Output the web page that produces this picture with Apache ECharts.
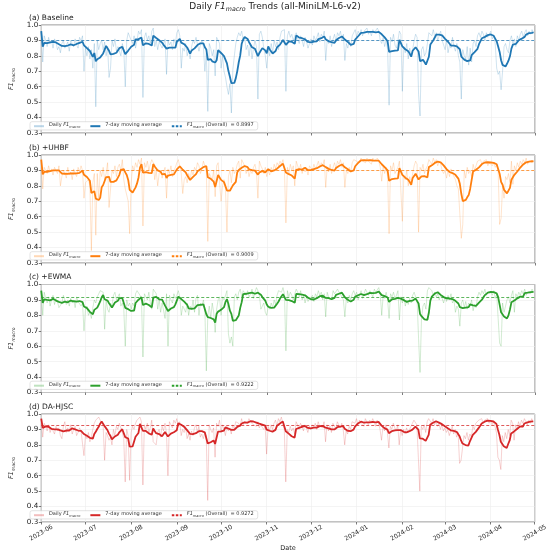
<!DOCTYPE html>
<html>
<head>
<meta charset="utf-8">
<script src="https://cdn.jsdelivr.net/npm/echarts@6/dist/echarts.min.js"></script>
<style>
  html, body { margin: 0; padding: 0; background: #ffffff; }
  #chart { width: 550px; height: 555px; }
</style>
</head>
<body>
<div id="chart"></div>
<script>
// panel labels, colours and the overall F1 shown in each legend
const panelNames = ["(a) Baseline", "(b) +UHBF", "(c) +EWMA", "(d) DA-HJSC"];
const colors = ["#1f77b4", "#ff7f0e", "#2ca02c", "#d62728"];
const overall = [0.8997, 0.9009, 0.9222, 0.9272];

// daily F1 macro, 2023-06-01 .. 2024-04-30, one row per month
const dailyBaseline = [
  0.96,0.76,0.93,0.90,0.86,0.92,0.88,0.90,0.85,0.91,0.89,0.84,0.86,0.82,0.88,0.90,0.85,0.87,0.89,0.83,0.90,0.88,0.86,0.91,0.87,0.85,0.92,0.90,0.93,0.70,
  0.85,0.80,0.86,0.78,0.84,0.72,0.88,0.47,0.90,0.84,0.88,0.90,0.84,0.89,0.80,0.86,0.66,0.72,0.90,0.86,0.91,0.83,0.86,0.87,0.80,0.88,0.84,0.60,0.90,0.95,0.94,
  0.90,0.88,0.93,0.85,0.90,0.96,0.94,0.97,0.53,0.92,0.95,0.90,0.93,0.88,0.96,0.98,0.86,0.90,0.84,0.89,0.88,0.85,0.88,0.91,0.68,0.90,0.87,0.89,0.84,0.91,0.88,
  0.95,0.97,0.93,0.72,0.85,0.83,0.88,0.80,0.84,0.78,0.86,0.90,0.88,0.92,0.91,0.83,0.87,0.90,0.86,0.70,0.82,0.44,0.88,0.85,0.80,0.84,0.67,0.92,0.90,0.88,
  0.72,0.80,0.70,0.66,0.60,0.55,0.62,0.43,0.71,0.80,0.88,0.92,0.95,0.93,0.96,0.90,0.92,0.84,0.87,0.80,0.88,0.78,0.85,0.90,0.86,0.52,0.94,0.96,0.92,0.85,0.80,
  0.72,0.84,0.80,0.88,0.82,0.90,0.86,0.89,0.84,0.92,0.96,0.95,0.97,0.57,0.93,0.96,0.92,0.94,0.90,0.93,0.95,0.91,0.88,0.93,0.90,0.86,0.92,0.89,0.85,0.88,
  0.91,0.87,0.93,0.90,0.92,0.95,0.89,0.94,0.92,0.96,0.77,0.90,0.88,0.93,0.86,0.91,0.94,0.89,0.95,0.93,0.96,0.90,0.94,0.77,0.88,0.85,0.90,0.86,0.93,0.95,0.97,
  0.92,0.96,0.94,0.97,0.93,0.96,0.95,0.98,0.94,0.96,0.93,0.97,0.95,0.94,0.98,0.96,0.90,0.88,0.92,0.86,0.90,0.84,0.48,0.92,0.89,0.94,0.87,0.85,0.90,0.96,0.94,
  0.57,0.86,0.82,0.88,0.78,0.85,0.80,0.84,0.90,0.94,0.92,0.55,0.41,0.84,0.86,0.80,0.82,0.88,0.95,0.96,0.93,0.97,0.92,0.95,0.90,0.93,0.96,0.90,0.89,
  0.84,0.90,0.82,0.87,0.85,0.92,0.86,0.83,0.88,0.80,0.76,0.52,0.84,0.80,0.78,0.86,0.74,0.85,0.76,0.88,0.90,0.86,0.93,0.95,0.92,0.96,0.94,0.90,0.95,0.92,0.94,
  0.96,0.91,0.93,0.88,0.72,0.68,0.70,0.58,0.70,0.86,0.88,0.84,0.82,0.90,0.93,0.88,0.91,0.86,0.93,0.90,0.94,0.96,0.92,0.95,0.97,0.93,0.96,0.94,0.97,0.95
];
const dailyUHBF = [
  0.97,0.78,0.92,0.90,0.88,0.93,0.89,0.91,0.87,0.92,0.90,0.88,0.93,0.80,0.86,0.90,0.88,0.85,0.92,0.87,0.89,0.84,0.91,0.88,0.86,0.92,0.89,0.93,0.90,0.72,
  0.82,0.82,0.84,0.80,0.38,0.82,0.88,0.48,0.88,0.72,0.90,0.86,0.92,0.84,0.88,0.95,0.66,0.67,0.90,0.88,0.93,0.86,0.92,0.94,0.90,0.97,0.84,0.78,0.74,0.70,0.49,
  0.82,0.93,0.90,0.95,0.92,0.97,0.94,0.98,0.54,0.95,0.92,0.96,0.90,0.94,0.97,0.95,0.84,0.90,0.80,0.88,0.90,0.85,0.89,0.92,0.72,0.91,0.88,0.93,0.86,0.90,0.92,
  0.95,0.97,0.96,0.88,0.75,0.84,0.86,0.82,0.88,0.84,0.90,0.87,0.92,0.90,0.95,0.93,0.88,0.91,0.96,0.97,0.90,0.44,0.88,0.86,0.84,0.90,0.73,0.93,0.95,0.82,
  0.70,0.80,0.84,0.78,0.50,0.86,0.90,0.82,0.92,0.88,0.90,0.94,0.96,0.85,0.97,0.95,0.93,0.88,0.91,0.86,0.90,0.88,0.92,0.94,0.89,0.72,0.96,0.93,0.91,0.88,0.92,
  0.86,0.90,0.87,0.92,0.89,0.94,0.91,0.95,0.93,0.96,0.94,0.97,0.90,0.56,0.92,0.88,0.94,0.90,0.93,0.80,0.96,0.93,0.90,0.94,0.88,0.92,0.89,0.91,0.87,0.93,
  0.92,0.90,0.94,0.91,0.93,0.96,0.92,0.95,0.93,0.97,0.79,0.92,0.89,0.94,0.88,0.92,0.95,0.91,0.96,0.94,0.97,0.92,0.95,0.79,0.90,0.88,0.92,0.89,0.95,0.97,0.98,
  0.96,0.97,0.95,0.98,0.96,0.97,0.95,0.98,0.96,0.97,0.94,0.98,0.96,0.95,0.98,0.96,0.92,0.83,0.93,0.88,0.92,0.86,0.49,0.93,0.90,0.95,0.88,0.87,0.92,0.96,0.95,
  0.57,0.86,0.84,0.90,0.80,0.86,0.82,0.88,0.93,0.96,0.94,0.50,0.92,0.90,0.94,0.88,0.91,0.93,0.97,0.96,0.94,0.98,0.95,0.97,0.93,0.96,0.94,0.90,0.88,
  0.90,0.85,0.90,0.86,0.91,0.88,0.86,0.84,0.80,0.78,0.62,0.46,0.55,0.90,0.85,0.92,0.88,0.90,0.86,0.94,0.90,0.93,0.96,0.95,0.97,0.94,0.96,0.95,0.97,0.93,0.95,
  0.96,0.93,0.95,0.92,0.94,0.90,0.55,0.59,0.80,0.72,0.86,0.84,0.88,0.82,0.96,0.81,0.93,0.90,0.95,0.92,0.96,0.94,0.97,0.95,0.98,0.94,0.96,0.97,0.95,0.96
];
const dailyEWMA = [
  0.96,0.80,0.95,0.91,0.88,0.92,0.86,0.90,0.93,0.87,0.91,0.89,0.85,0.84,0.88,0.93,0.92,0.87,0.90,0.86,0.91,0.88,0.90,0.85,0.92,0.89,0.90,0.86,0.88,0.70,
  0.84,0.86,0.80,0.82,0.78,0.85,0.90,0.88,0.92,0.94,0.96,0.97,0.95,0.71,0.90,0.84,0.82,0.88,0.86,0.93,0.95,0.90,0.92,0.94,0.86,0.88,0.84,0.60,0.90,0.86,0.88,
  0.84,0.88,0.86,0.94,0.96,0.95,0.93,0.90,0.53,0.94,0.92,0.90,0.95,0.88,0.84,0.97,0.96,0.94,0.84,0.90,0.82,0.88,0.88,0.78,0.94,0.60,0.93,0.90,0.88,0.94,0.91,
  0.93,0.96,0.92,0.80,0.86,0.84,0.82,0.88,0.80,0.86,0.84,0.90,0.82,0.91,0.93,0.80,0.88,0.86,0.90,0.84,0.44,0.80,0.86,0.78,0.88,0.82,0.69,0.84,0.90,0.92,
  0.80,0.92,0.90,0.93,0.96,0.68,0.62,0.66,0.60,0.92,0.94,0.90,0.95,0.97,0.92,0.96,0.95,0.93,0.96,0.92,0.94,0.97,0.91,0.95,0.98,0.96,0.93,0.84,0.86,0.88,0.82,
  0.80,0.86,0.84,0.88,0.85,0.90,0.87,0.93,0.96,0.97,0.95,0.98,0.94,0.57,0.96,0.92,0.95,0.93,0.90,0.94,0.97,0.95,0.92,0.96,0.90,0.93,0.88,0.92,0.89,0.91,
  0.90,0.93,0.89,0.94,0.92,0.96,0.93,0.95,0.90,0.94,0.79,0.95,0.92,0.93,0.90,0.96,0.94,0.93,0.97,0.95,0.96,0.92,0.90,0.79,0.91,0.88,0.93,0.90,0.94,0.96,0.93,
  0.95,0.90,0.93,0.96,0.91,0.94,0.97,0.95,0.93,0.96,0.94,0.92,0.97,0.95,0.96,0.98,0.94,0.80,0.93,0.91,0.95,0.90,0.78,0.94,0.92,0.95,0.91,0.93,0.96,0.77,0.92,
  0.88,0.92,0.86,0.90,0.87,0.91,0.88,0.93,0.95,0.92,0.90,0.65,0.43,0.78,0.86,0.88,0.84,0.96,0.98,0.97,0.96,0.93,0.95,0.92,0.94,0.90,0.93,0.91,0.88,
  0.92,0.89,0.93,0.90,0.94,0.88,0.90,0.82,0.86,0.84,0.73,0.88,0.90,0.85,0.89,0.84,0.88,0.86,0.90,0.83,0.87,0.85,0.92,0.95,0.93,0.96,0.94,0.97,0.93,0.95,0.96,
  0.95,0.93,0.96,0.91,0.94,0.78,0.62,0.60,0.88,0.82,0.86,0.90,0.92,0.88,0.93,0.96,0.82,0.94,0.92,0.95,0.93,0.96,0.94,0.97,0.93,0.95,0.96,0.94,0.97,0.95
];
const dailyDAHJSC = [
  0.97,0.85,0.94,0.92,0.89,0.93,0.88,0.91,0.90,0.87,0.92,0.89,0.91,0.86,0.84,0.92,0.95,0.88,0.91,0.89,0.93,0.87,0.90,0.92,0.86,0.88,0.91,0.89,0.90,0.73,
  0.86,0.84,0.88,0.82,0.85,0.90,0.94,0.96,0.97,0.98,0.96,0.95,0.93,0.70,0.88,0.86,0.83,0.85,0.80,0.90,0.86,0.92,0.90,0.94,0.91,0.88,0.84,0.56,0.90,0.86,0.57,
  0.88,0.92,0.90,0.94,0.96,0.97,0.98,0.95,0.54,0.93,0.90,0.94,0.88,0.91,0.96,0.82,0.82,0.80,0.88,0.90,0.85,0.92,0.89,0.94,0.88,0.60,0.95,0.93,0.91,0.96,0.94,
  0.97,0.92,0.95,0.86,0.90,0.88,0.92,0.84,0.87,0.83,0.89,0.86,0.91,0.93,0.88,0.92,0.85,0.87,0.84,0.88,0.86,0.44,0.93,0.90,0.88,0.91,0.72,0.94,0.92,0.96,
  0.88,0.93,0.90,0.86,0.92,0.89,0.91,0.87,0.93,0.90,0.95,0.96,0.94,0.92,0.97,0.93,0.95,0.96,0.94,0.97,0.95,0.96,0.93,0.94,0.92,0.95,0.91,0.93,0.94,0.90,0.92,
  0.74,0.92,0.89,0.93,0.90,0.94,0.96,0.92,0.97,0.95,0.98,0.94,0.90,0.56,0.90,0.88,0.92,0.89,0.91,0.87,0.95,0.93,0.90,0.94,0.92,0.89,0.93,0.91,0.88,0.92,
  0.90,0.93,0.91,0.94,0.90,0.95,0.92,0.93,0.91,0.95,0.82,0.93,0.89,0.92,0.88,0.94,0.92,0.90,0.95,0.93,0.91,0.94,0.90,0.80,0.89,0.87,0.92,0.90,0.95,0.96,0.94,
  0.97,0.93,0.96,0.94,0.95,0.92,0.97,0.95,0.93,0.96,0.94,0.97,0.95,0.92,0.96,0.94,0.90,0.83,0.92,0.89,0.93,0.88,0.78,0.92,0.90,0.94,0.91,0.89,0.93,0.80,0.90,
  0.86,0.90,0.87,0.91,0.88,0.90,0.89,0.94,0.96,0.95,0.93,0.72,0.50,0.92,0.90,0.93,0.88,0.95,0.97,0.96,0.94,0.97,0.93,0.95,0.92,0.94,0.90,0.93,0.89,
  0.91,0.88,0.90,0.86,0.89,0.92,0.87,0.90,0.85,0.88,0.68,0.70,0.78,0.86,0.84,0.88,0.83,0.87,0.85,0.92,0.90,0.94,0.93,0.96,0.95,0.97,0.94,0.96,0.95,0.97,0.94,
  0.96,0.93,0.95,0.92,0.88,0.72,0.70,0.64,0.86,0.82,0.88,0.84,0.90,0.86,0.96,0.94,0.83,0.93,0.90,0.95,0.92,0.96,0.94,0.97,0.95,0.93,0.96,0.94,0.97,0.95
];
const dailySeries = [dailyBaseline, dailyUHBF, dailyEWMA, dailyDAHJSC];

// one category per day, 2023-06-01 .. 2024-05-01 (axis end)
const dates = [];
for (let t = Date.UTC(2023, 5, 1); t <= Date.UTC(2024, 4, 1); t += 86400000) {
  dates.push(new Date(t).toISOString().slice(0, 10));
}

// trailing 7-day mean, like pandas rolling(7, min_periods=1)
function rolling(arr, w) {
  return arr.map((_, i) => {
    const win = arr.slice(Math.max(0, i - w + 1), i + 1);
    return +(win.reduce((a, b) => a + b, 0) / win.length).toFixed(4);
  });
}

const font = "DejaVu Sans";
const monthStart = (idx, val) => val.slice(8) === "01";
const gridTops = [25, 155, 284.5, 414];
const gridH = 108;

function rich(size, color) {
  const base = { fontSize: size, fontFamily: font, fontWeight: "normal", color: color, lineHeight: size + 2, verticalAlign: "top" };
  return {
    n: base,
    i: Object.assign({}, base, { fontStyle: "italic" }),
    s: Object.assign({}, base, { fontSize: size * 0.7, fontStyle: "italic", lineHeight: size * 0.7 + 2, padding: [size * 0.45, 0, 0, 0] })
  };
}

const chart = echarts.init(document.getElementById("chart"));

const grids = [], xAxes = [], yAxes = [], series = [], legends = [];
const titles = [{
  text: "{n|Daily }{i|F1}{s|macro}{n| Trends (all-MiniLM-L6-v2)}",
  left: "center", top: 2, padding: 0,
  textStyle: { fontWeight: "normal", rich: rich(9, "#222") }
}];

panelNames.forEach((pn, i) => {
  const top = gridTops[i];
  grids.push({
    left: 29, right: 15, top: top, height: gridH,
    show: true, borderColor: "#666", borderWidth: 0.8
  });
  titles.push({
    text: pn, left: 29, top: top - 11, padding: 0,
    textStyle: { fontSize: 7.5, fontWeight: "normal", color: "#222", fontFamily: font }
  });
  xAxes.push({
    gridIndex: i, type: "category", data: dates, boundaryGap: false,
    axisLine: { show: false },
    axisTick: { show: true, interval: monthStart, length: 2.5, lineStyle: { color: "#444", width: 0.7 } },
    axisLabel: {
      show: i === 3, interval: monthStart, rotate: 30, margin: 11,
      align: "center", verticalAlign: "middle",
      fontSize: 6.2, color: "#222", fontFamily: font,
      formatter: (v) => v.slice(0, 7)
    },
    splitLine: { show: true, interval: monthStart, lineStyle: { color: "#ececec", width: 0.6 } },
    name: i === 3 ? "Date" : "", nameLocation: "middle", nameGap: 22,
    nameTextStyle: { fontSize: 6.5, color: "#222", fontFamily: font }
  });
  yAxes.push({
    gridIndex: i, type: "value", min: 0.3, max: 1.0, interval: 0.1,
    axisLine: { show: false },
    axisTick: { show: true, length: 2.5, lineStyle: { color: "#444", width: 0.7 } },
    axisLabel: { fontSize: 7.2, color: "#222", margin: 3, fontFamily: font, formatter: (v) => v.toFixed(1) },
    splitLine: { show: true, lineStyle: { color: "#ececec", width: 0.6 } },
    name: "{i|F1}{s|macro}", nameLocation: "middle", nameGap: 15, nameRotate: 90,
    nameTextStyle: { rich: rich(6.5, "#222") }
  });

  const c = colors[i];
  const daily = dailySeries[i];
  series.push({
    name: "daily" + i, type: "line", xAxisIndex: i, yAxisIndex: i,
    data: daily, symbol: "none", z: 2,
    itemStyle: { color: c, opacity: 0.3 },
    lineStyle: { color: c, width: 0.7, opacity: 0.3 }
  });
  series.push({
    name: "ma" + i, type: "line", xAxisIndex: i, yAxisIndex: i,
    data: rolling(daily, 7), symbol: "none", z: 3,
    itemStyle: { color: c },
    lineStyle: { color: c, width: 1.8 }
  });
  series.push({
    name: "mean" + i, type: "line", xAxisIndex: i, yAxisIndex: i,
    data: [], symbol: "none", z: 4,
    itemStyle: { color: c },
    lineStyle: { color: c, width: 0.8, type: [2.5, 1.5] },
    markLine: {
      silent: true, symbol: "none", label: { show: false },
      lineStyle: { color: c, width: 0.9, type: [3, 2], opacity: 0.85 },
      data: [{ yAxis: overall[i] }]
    }
  });

  const labels = {};
  labels["daily" + i] = "{n|Daily }{i|F1}{s|macro}";
  labels["ma" + i] = "{n|7-day moving average}";
  labels["mean" + i] = "{i|F1}{s|macro}{n| (Overall)  = " + overall[i].toFixed(4) + "}";
  legends.push({
    data: ["daily" + i, "ma" + i, "mean" + i],
    left: 30, top: top + 96.7, orient: "horizontal",
    itemWidth: 10, itemHeight: 6, itemGap: 9,
    selectedMode: false,
    itemStyle: { color: "rgba(0,0,0,0)", borderColor: "rgba(0,0,0,0)", borderWidth: 0 },
    backgroundColor: "rgba(255,255,255,0.85)",
    borderColor: "#d0d0d0", borderWidth: 0.6, borderRadius: 2,
    padding: [1, 4, 1, 3],
    formatter: (name) => labels[name],
    textStyle: { rich: rich(5, "#333") }
  });
});

chart.setOption({
  animation: false,
  backgroundColor: "#ffffff",
  textStyle: { fontFamily: font },
  title: titles,
  grid: grids,
  xAxis: xAxes,
  yAxis: yAxes,
  legend: legends,
  series: series
});
</script>
</body>
</html>
